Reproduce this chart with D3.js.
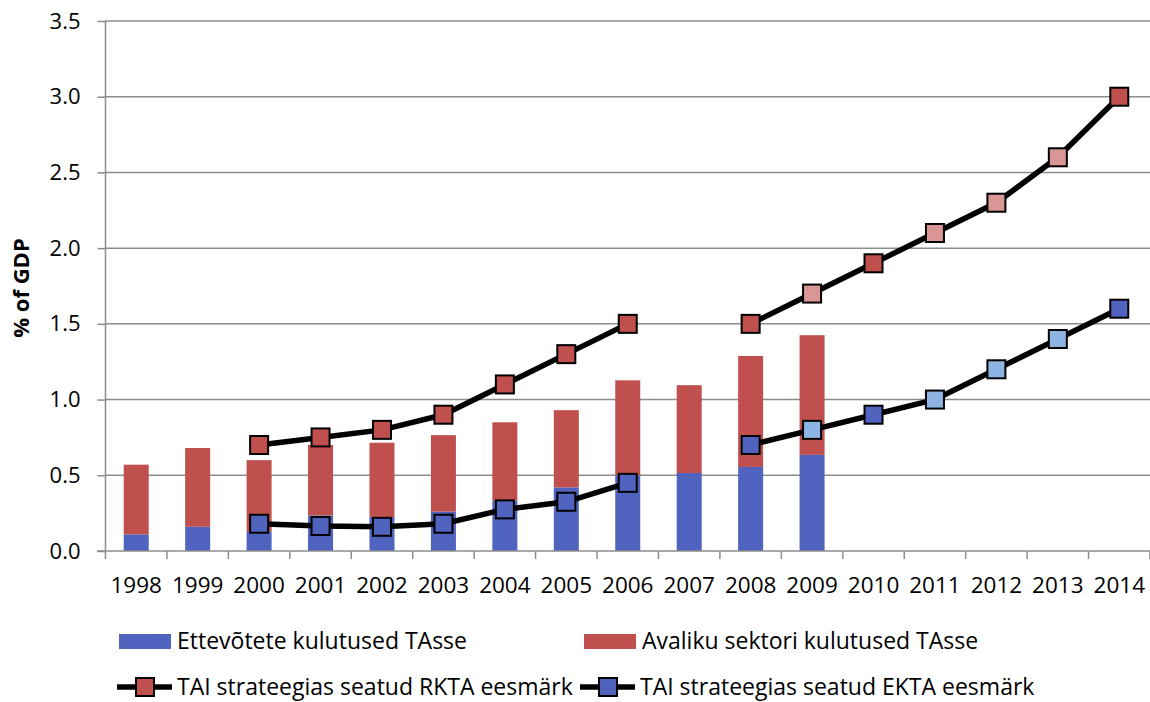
<!DOCTYPE html>
<html><head><meta charset="utf-8">
<script src="https://cdn.jsdelivr.net/npm/d3@7"></script>
<style>body{margin:0;background:#fff}svg{display:block;font-family:"Open Sans",sans-serif}</style>
</head><body>
<svg id="c" width="1150" height="702"></svg>
<script>
const years = ["1998","1999","2000","2001","2002","2003","2004","2005","2006","2007","2008","2009","2010","2011","2012","2013","2014"];
const business = [0.11,0.16,0.13,0.235,0.225,0.26,0.335,0.42,0.50,0.515,0.555,0.635,null,null,null,null,null];
const publicSector = [0.46,0.52,0.47,0.465,0.49,0.505,0.515,0.51,0.627,0.58,0.733,0.79,null,null,null,null,null];
const rktaTarget = [null,null,0.70,0.75,0.80,0.90,1.10,1.30,1.50,null,1.50,1.70,1.90,2.10,2.30,2.60,3.00];
const ektaTarget = [null,null,0.18,0.165,0.16,0.18,0.275,0.325,0.45,null,0.70,0.80,0.90,1.00,1.20,1.40,1.60];
const lightMarker = [false,false,false,false,false,false,false,false,false,false,false,true,false,true,true,true,false];
const yTicks = [0,0.5,1.0,1.5,2.0,2.5,3.0,3.5];
const legendLabels = ["Ettevõtete kulutused TAsse","Avaliku sektori kulutused TAsse","TAI strateegias seatud RKTA eesmärk","TAI strateegias seatud EKTA eesmärk"];

const C = {blue:"#4F63BF", red:"#C0504D", pink:"#D99694", lblue:"#8DB4E2", grid:"#8C8C8C"};
const svg = d3.select("#c");
const x = d3.scaleBand().domain(years).range([105.5,1150]).padding(0);
const y = d3.scaleLinear().domain([0,3.5]).range([551,21]);

// gridlines
svg.append("g").selectAll("line").data(yTicks.slice(1)).join("line")
  .attr("x1",105).attr("x2",1150).attr("y1",d=>y(d)).attr("y2",d=>y(d))
  .attr("stroke",C.grid).attr("stroke-width",1.5);

// y axis
const ya = svg.append("g").attr("transform","translate(105.5,0)")
  .call(d3.axisLeft(y).tickValues(yTicks).tickFormat(d3.format(".1f")).tickSize(8).tickPadding(17));
ya.select(".domain").attr("stroke",C.grid).attr("stroke-width",1.5).attr("d","M0,"+y(3.5)+"V"+y(0));
ya.selectAll(".tick line").attr("stroke",C.grid).attr("stroke-width",1.5);
ya.selectAll("text").attr("font-size",22).attr("font-family","Open Sans").attr("fill","#000");

// bars
const bw = 25;
const data = years.map((yr,i)=>({yr,b:business[i],p:publicSector[i],r:rktaTarget[i],e:ektaTarget[i],light:lightMarker[i]}));
const bars = svg.append("g");
bars.selectAll("rect.b").data(data.filter(d=>d.b!=null)).join("rect")
  .attr("x",d=>x(d.yr)+x.bandwidth()/2-bw/2).attr("width",bw)
  .attr("y",d=>y(d.b)).attr("height",d=>y(0)-y(d.b)).attr("fill",C.blue);
bars.selectAll("rect.p").data(data.filter(d=>d.p!=null)).join("rect")
  .attr("x",d=>x(d.yr)+x.bandwidth()/2-bw/2).attr("width",bw)
  .attr("y",d=>y(d.b+d.p)).attr("height",d=>y(d.b)-y(d.b+d.p)).attr("fill",C.red);

// x axis
const xa = svg.append("g").attr("transform","translate(0,551)")
  .call(d3.axisBottom(x).tickSize(0).tickPadding(26));
xa.select(".domain").attr("stroke",C.grid).attr("stroke-width",1.5).attr("d","M97,0H1150");
xa.selectAll("text").attr("font-size",22.5).attr("font-family","Open Sans").attr("fill","#000");
svg.append("g").selectAll("line").data(years.concat(["end"])).join("line")
  .attr("x1",(d,i)=>105.5+i*x.bandwidth()).attr("x2",(d,i)=>105.5+i*x.bandwidth())
  .attr("y1",551).attr("y2",559).attr("stroke",C.grid).attr("stroke-width",1.5);

// lines
const cx = d=>x(d.yr)+x.bandwidth()/2;
function series(key, dark, light){
  const g = svg.append("g");
  const line = d3.line().defined(d=>d[key]!=null).x(cx).y(d=>y(d[key]));
  g.append("path").datum(data).attr("d",line).attr("fill","none").attr("stroke","#000").attr("stroke-width",5.5).attr("stroke-linejoin","round");
  const ms = 18;
  g.selectAll("rect").data(data.filter(d=>d[key]!=null)).join("rect")
    .attr("x",d=>cx(d)-ms/2).attr("y",d=>y(d[key])-ms/2).attr("width",ms).attr("height",ms)
    .attr("fill",d=>d.light?light:dark).attr("stroke","#000").attr("stroke-width",2);
}
series("r",C.red,C.pink);
series("e",C.blue,C.lblue);

// y title
svg.append("text").attr("transform","translate(29,288) rotate(-90)").attr("text-anchor","middle")
  .attr("font-size",22).attr("font-weight","bold").attr("font-family","Open Sans").text("% of GDP");

// legend
const lg = svg.append("g").attr("font-size",23).attr("font-family","Open Sans");
[[119,C.blue,legendLabels[0]],[584,C.red,legendLabels[1]]].forEach(([lx,col,t])=>{
  lg.append("rect").attr("x",lx).attr("y",634).attr("width",52).attr("height",15).attr("fill",col);
  lg.append("text").attr("x",lx+58).attr("y",649).text(t);
});
[[117,C.red,legendLabels[2]],[580,C.blue,legendLabels[3]]].forEach(([lx,col,t])=>{
  lg.append("line").attr("x1",lx).attr("x2",lx+55).attr("y1",687).attr("y2",687).attr("stroke","#000").attr("stroke-width",5.5);
  lg.append("rect").attr("x",lx+28-9).attr("y",678).attr("width",18).attr("height",18).attr("fill",col).attr("stroke","#000").attr("stroke-width",2);
  lg.append("text").attr("x",lx+60).attr("y",694.5).text(t);
});
</script>
</body></html>
